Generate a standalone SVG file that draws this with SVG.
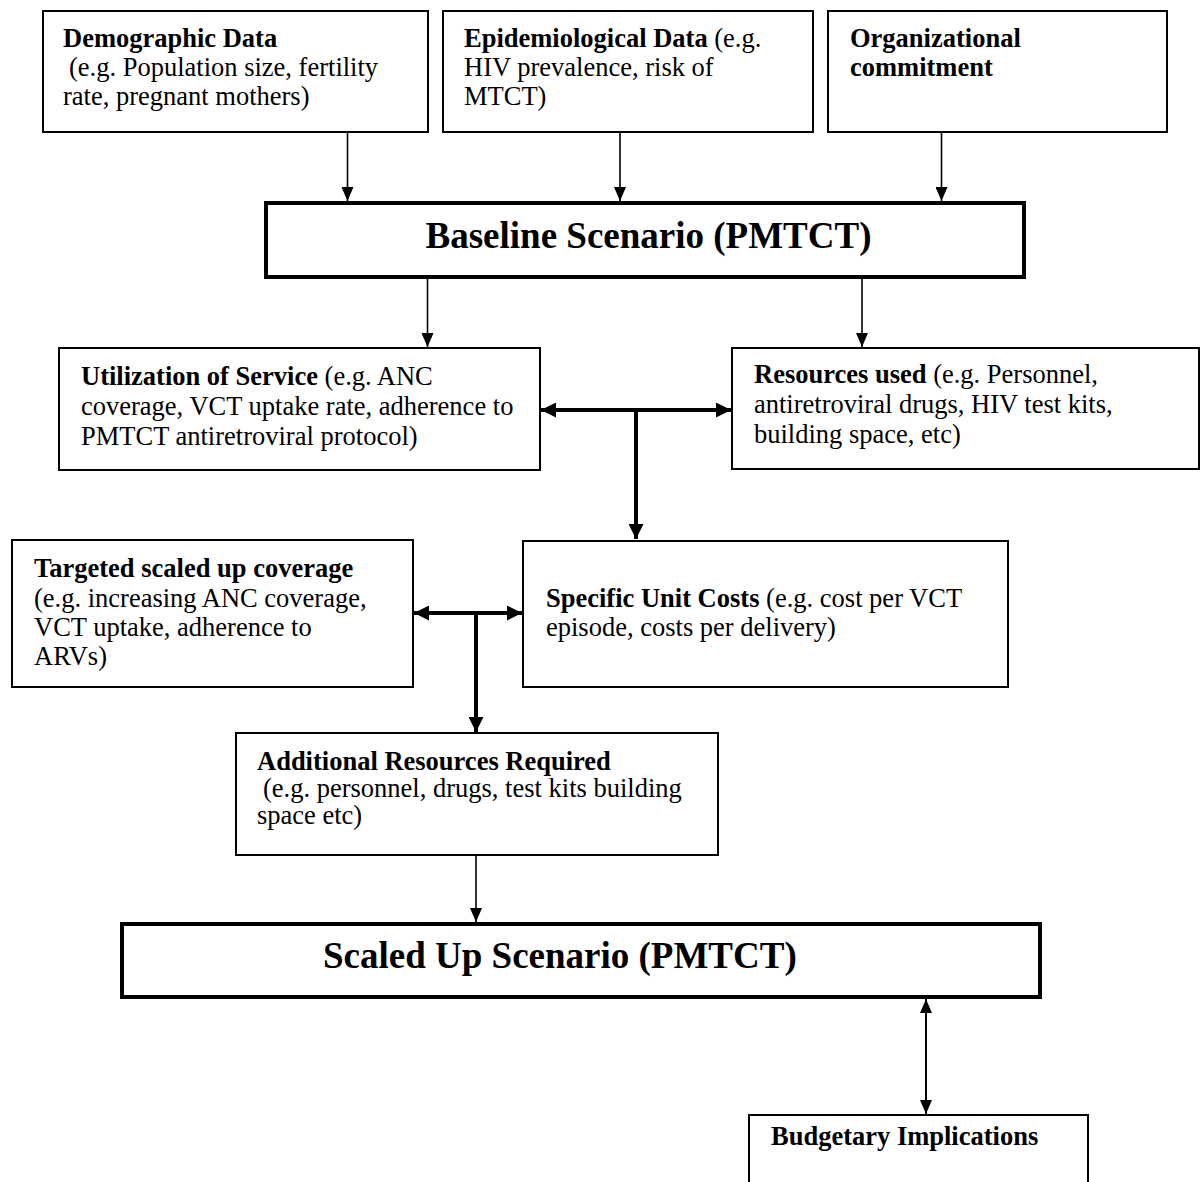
<svg xmlns="http://www.w3.org/2000/svg" width="1203" height="1182" viewBox="0 0 1203 1182">
<style>
  .box { fill: #ffffff; stroke: #000000; stroke-width: 2; }
  .thick { fill: #ffffff; stroke: #000000; stroke-width: 4; }
  text { font-family: "Liberation Serif", "Times New Roman", serif; font-size: 26.5px; fill: #000000; }
  .b { font-weight: bold; }
  .title { font-size: 37px; font-weight: bold; }
  .c1 { fill: none; stroke: #000000; stroke-width: 1.6; }
  .c3 { fill: none; stroke: #000000; stroke-width: 4; }
  .c2 { fill: none; stroke: #000000; stroke-width: 2; }
</style>
<defs>
  <marker id="ah" markerUnits="userSpaceOnUse" viewBox="0 0 14 12" refX="14" refY="6" markerWidth="14" markerHeight="12" orient="auto-start-reverse">
    <path d="M0,0 L14,6 L0,12 z" fill="#000000"/>
  </marker>
  <marker id="ahb" markerUnits="userSpaceOnUse" viewBox="0 0 15 15" refX="15" refY="7.5" markerWidth="15" markerHeight="15" orient="auto-start-reverse">
    <path d="M0,0 L15,7.5 L0,15 z" fill="#000000"/>
  </marker>
</defs>
<rect x="0" y="0" width="1203" height="1182" fill="#ffffff"/>

<g id="connectors">
  <line class="c1" x1="347.5" y1="132" x2="347.5" y2="201" marker-end="url(#ah)"/>
  <line class="c1" x1="620" y1="132" x2="620" y2="201" marker-end="url(#ah)"/>
  <line class="c1" x1="941.5" y1="132" x2="941.5" y2="201" marker-end="url(#ah)"/>
  <line class="c1" x1="427.5" y1="279" x2="427.5" y2="347" marker-end="url(#ah)"/>
  <line class="c1" x1="862" y1="279" x2="862" y2="347" marker-end="url(#ah)"/>
  <line class="c3" x1="541" y1="410" x2="731" y2="410" marker-start="url(#ahb)" marker-end="url(#ahb)"/>
  <line class="c3" x1="636" y1="410" x2="636" y2="539" marker-end="url(#ahb)"/>
  <line class="c3" x1="414" y1="613" x2="522" y2="613" marker-start="url(#ahb)" marker-end="url(#ahb)"/>
  <line class="c3" x1="476" y1="613" x2="476" y2="732" marker-end="url(#ahb)"/>
  <line class="c1" x1="476" y1="855" x2="476" y2="922" marker-end="url(#ah)"/>
  <line class="c2" x1="926" y1="999" x2="926" y2="1114" marker-start="url(#ah)" marker-end="url(#ah)"/>
</g>

<g id="demographic">
  <rect class="box" x="43" y="11" width="385" height="121"/>
  <text x="63" y="47" class="b">Demographic Data</text>
  <text x="69" y="76">(e.g. Population size, fertility</text>
  <text x="63" y="105">rate, pregnant mothers)</text>
</g>

<g id="epidemiological">
  <rect class="box" x="443" y="11" width="370" height="121"/>
  <text x="464" y="47"><tspan class="b">Epidemiological Data</tspan> (e.g.</text>
  <text x="464" y="76">HIV prevalence, risk of</text>
  <text x="464" y="105">MTCT)</text>
</g>

<g id="organizational">
  <rect class="box" x="828" y="11" width="339" height="121"/>
  <text x="850" y="47" class="b">Organizational</text>
  <text x="850" y="76" class="b">commitment</text>
</g>

<g id="baseline">
  <rect class="thick" x="266" y="203" width="758" height="74"/>
  <text x="425.5" y="248" class="title">Baseline Scenario (PMTCT)</text>
</g>

<g id="utilization">
  <rect class="box" x="59" y="348" width="481" height="122"/>
  <text x="81" y="385"><tspan class="b">Utilization of Service</tspan> (e.g. ANC</text>
  <text x="81" y="415">coverage, VCT uptake rate, adherence to</text>
  <text x="81" y="445">PMTCT antiretroviral protocol)</text>
</g>

<g id="resources">
  <rect class="box" x="732" y="348" width="467" height="121"/>
  <text x="754" y="383"><tspan class="b">Resources used</tspan> (e.g. Personnel,</text>
  <text x="754" y="413">antiretroviral drugs, HIV test kits,</text>
  <text x="754" y="443">building space, etc)</text>
</g>

<g id="targeted">
  <rect class="box" x="12" y="540" width="401" height="147"/>
  <text x="34" y="577" class="b">Targeted scaled up coverage</text>
  <text x="34" y="607">(e.g. increasing ANC coverage,</text>
  <text x="34" y="636">VCT uptake, adherence to</text>
  <text x="34" y="665">ARVs)</text>
</g>

<g id="specific">
  <rect class="box" x="523" y="541" width="485" height="146"/>
  <text x="546" y="607"><tspan class="b">Specific Unit Costs</tspan> (e.g. cost per VCT</text>
  <text x="546" y="636">episode, costs per delivery)</text>
</g>

<g id="additional">
  <rect class="box" x="236" y="733" width="482" height="122"/>
  <text x="257" y="770" class="b">Additional Resources Required</text>
  <text x="263" y="797">(e.g. personnel, drugs, test kits building</text>
  <text x="257" y="824">space etc)</text>
</g>

<g id="scaledup">
  <rect class="thick" x="122" y="924" width="918" height="73"/>
  <text x="323" y="968" class="title">Scaled Up Scenario (PMTCT)</text>
</g>

<g id="budgetary">
  <rect class="box" x="749" y="1115" width="339" height="90"/>
  <text x="771" y="1145" class="b">Budgetary Implications</text>
</g>
</svg>
